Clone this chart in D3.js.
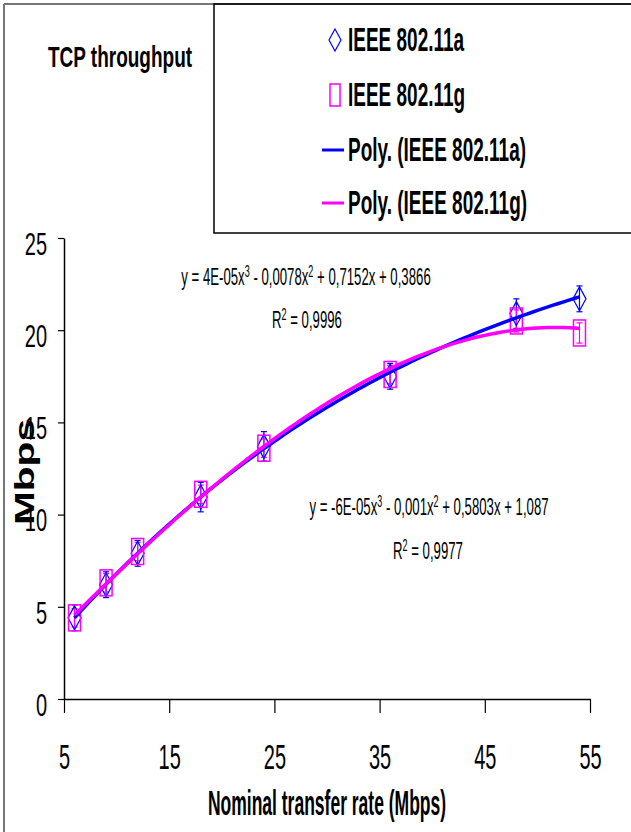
<!DOCTYPE html>
<html>
<head>
<meta charset="utf-8">
<script src="https://cdn.jsdelivr.net/npm/d3@7"></script>
<style>
  body { margin: 0; background: #fff; }
  svg { display: block; font-family: "Liberation Sans", Arial, sans-serif; }
</style>
</head>
<body>
<div id="chart"></div>
<script>
// data
var rates = [6, 9, 12, 18, 24, 36, 48, 54];
var tputA = [4.4, 6.2, 7.9, 10.95, 13.7, 17.5, 20.9, 21.7];
var tputG = [4.4, 6.3, 8.0, 11.1, 13.6, 17.6, 20.5, 19.85];
var errA = [0.7, 0.7, 0.7, 0.8, 0.8, 0.7, 0.8, 0.7];
var errG = [0.5, 0.5, 0.5, 0.5, 0.5, 0.5, 0.6, 0.55];
var xTicks = [5, 15, 25, 35, 45, 55];
var yTicks = [0, 5, 10, 15, 20, 25];
var legendLabels = ["IEEE 802.11a", "IEEE 802.11g", "Poly. (IEEE 802.11a)", "Poly. (IEEE 802.11g)"];

var W = 631, H = 832;
var blue = "#0000ff", pink = "#ff00ff";

var svg = d3.select("#chart").append("svg")
  .attr("width", W).attr("height", H);

var x = d3.scaleLinear().domain([5, 55]).range([64, 590]);
var y = d3.scaleLinear().domain([0, 25]).range([699, 238]);

// outer frame
svg.append("line").attr("x1", 4).attr("y1", 4).attr("x2", 4).attr("y2", H)
  .style("stroke", "#777").style("stroke-width", 2);
svg.append("line").attr("x1", 4).attr("y1", 4).attr("x2", W).attr("y2", 4)
  .style("stroke", "#777").style("stroke-width", 2);

// text is stretched vertically in the picture
function label(txt, tx, ty, size, sy, bold, anchor) {
  return svg.append("text")
    .attr("transform", "translate(" + tx + "," + ty + ") scale(1," + sy + ")")
    .attr("text-anchor", anchor || "start")
    .style("font-size", size + "px")
    .style("font-weight", bold ? "bold" : "normal")
    .text(txt);
}

label("TCP throughput", 120, 67, 19, 1.6, true, "middle");

// legend box
svg.append("rect").attr("x", 214).attr("y", 4).attr("width", 440).attr("height", 229)
  .style("fill", "none").style("stroke", "#000").style("stroke-width", 1.5);

var legY = [40, 95, 150, 203];
legendLabels.forEach(function(t, i) {
  label(t, 348, legY[i] + 11, 19, 1.75, true);
});
// legend marks
svg.append("path")
  .attr("d", "M335," + (legY[0] - 11) + "L341," + legY[0] + "L335," + (legY[0] + 11) + "L329," + legY[0] + "Z")
  .style("fill", "none").style("stroke", blue).style("stroke-width", 1.2);
svg.append("rect").attr("x", 330).attr("y", legY[1] - 11).attr("width", 10).attr("height", 22)
  .style("fill", "none").style("stroke", pink).style("stroke-width", 1.5);
svg.append("line").attr("x1", 322).attr("x2", 344).attr("y1", legY[2]).attr("y2", legY[2])
  .style("stroke", blue).style("stroke-width", 3);
svg.append("line").attr("x1", 322).attr("x2", 344).attr("y1", legY[3]).attr("y2", legY[3])
  .style("stroke", pink).style("stroke-width", 3);

// axes
var yAxis = svg.append("g").attr("transform", "translate(" + x(5) + ",0)")
  .call(d3.axisLeft(y).tickValues(yTicks).tickSize(6).tickSizeOuter(0).tickPadding(11));
var xAxis = svg.append("g").attr("transform", "translate(0," + y(0) + ")")
  .call(d3.axisBottom(x).tickValues(xTicks).tickSize(14).tickSizeOuter(0));

svg.selectAll(".domain").style("stroke", "#000").style("stroke-width", 1.5);
svg.selectAll(".tick line").style("stroke", "#000").style("stroke-width", 1.2);
yAxis.selectAll("text")
  .attr("dy", "0.35em")
  .attr("transform", "translate(0,5) scale(1,1.6)")
  .style("font-size", "20px").style("fill", "#000")
  .style("font-family", "'Liberation Sans', Arial, sans-serif");
xAxis.selectAll("text")
  .attr("y", 0).attr("dy", "0.35em")
  .attr("transform", "translate(0,58) scale(1,1.75)")
  .style("font-size", "20px").style("fill", "#000")
  .style("font-family", "'Liberation Sans', Arial, sans-serif");

label("Nominal transfer rate (Mbps)", 327, 815, 17.5, 2.05, true, "middle");
svg.append("text")
  .attr("transform", "translate(34,472) scale(1,1.45) rotate(-90)")
  .attr("text-anchor", "middle")
  .style("font-size", "28px").style("font-weight", "bold")
  .text("Mbps");

// error bars + markers
function errBars(vals, errs, color) {
  var g = svg.append("g").style("stroke", color).style("stroke-width", 1.2);
  rates.forEach(function(r, i) {
    var cx = x(r), top = y(vals[i] + errs[i]), bot = y(vals[i] - errs[i]);
    g.append("line").attr("x1", cx).attr("x2", cx).attr("y1", top).attr("y2", bot);
    g.append("line").attr("x1", cx - 3).attr("x2", cx + 3).attr("y1", top).attr("y2", top);
    g.append("line").attr("x1", cx - 3).attr("x2", cx + 3).attr("y1", bot).attr("y2", bot);
  });
}
errBars(tputA, errA, blue);
errBars(tputG, errG, pink);

svg.selectAll("path.diamond")
  .data(rates.map(function(r, i) { return [r, tputA[i]]; }))
  .enter().append("path")
  .attr("class", "diamond")
  .attr("d", function(d) {
    var cx = x(d[0]), cy = y(d[1]);
    return "M" + cx + "," + (cy - 12) + "L" + (cx + 6.5) + "," + cy + "L" + cx + "," + (cy + 12) + "L" + (cx - 6.5) + "," + cy + "Z";
  })
  .style("fill", "none").style("stroke", blue).style("stroke-width", 1.2);

svg.selectAll("rect.sq")
  .data(rates.map(function(r, i) { return [r, tputG[i]]; }))
  .enter().append("rect")
  .attr("class", "sq")
  .attr("x", function(d) { return x(d[0]) - 6; })
  .attr("y", function(d) { return y(d[1]) - 13; })
  .attr("width", 12).attr("height", 26)
  .style("fill", "none").style("stroke", pink).style("stroke-width", 1.5);

// cubic least squares trend lines (Excel "Poly." order 3)
function polyFit(xs, ys, deg) {
  var n = deg + 1, A = [], b = [];
  for (var i = 0; i < n; i++) {
    A.push([]);
    for (var j = 0; j < n; j++) A[i].push(d3.sum(xs, function(v) { return Math.pow(v, i + j); }));
    b.push(d3.sum(xs, function(v, k) { return ys[k] * Math.pow(v, i); }));
  }
  for (var c = 0; c < n; c++) {
    for (var r = c + 1; r < n; r++) {
      var f = A[r][c] / A[c][c];
      for (var k = c; k < n; k++) A[r][k] -= f * A[c][k];
      b[r] -= f * b[c];
    }
  }
  var coef = new Array(n);
  for (var r2 = n - 1; r2 >= 0; r2--) {
    var s = b[r2];
    for (var k2 = r2 + 1; k2 < n; k2++) s -= A[r2][k2] * coef[k2];
    coef[r2] = s / A[r2][r2];
  }
  return function(v) { return coef.reduce(function(acc, cf, p) { return acc + cf * Math.pow(v, p); }, 0); };
}

var fitA = polyFit(rates, tputA, 3), fitG = polyFit(rates, tputG, 3);
var xs = d3.range(6, 54.01, 0.5);
var line = d3.line().x(function(d) { return x(d[0]); }).y(function(d) { return y(d[1]); });

svg.append("path").datum(xs.map(function(v) { return [v, fitA(v)]; }))
  .attr("d", line).style("fill", "none").style("stroke", blue).style("stroke-width", 3.5);
svg.append("path").datum(xs.map(function(v) { return [v, fitG(v)]; }))
  .attr("d", line).style("fill", "none").style("stroke", pink).style("stroke-width", 3.5);

// trendline equations, "^n" marks a superscript
function eq(parts, tx, ty) {
  var t = svg.append("text")
    .attr("transform", "translate(" + tx + "," + ty + ") scale(1,1.75)")
    .attr("text-anchor", "middle")
    .style("font-size", "13.2px");
  var up = false;
  parts.forEach(function(p) {
    if (p.charAt(0) === "^") {
      t.append("tspan").attr("dy", -4.5).style("font-size", "9px").text(p.slice(1));
      up = true;
    } else {
      t.append("tspan").attr("dy", up ? 4.5 : 0).text(p);
      up = false;
    }
  });
}
eq(["y = 4E-05x", "^3", " - 0,0078x", "^2", " + 0,7152x + 0,3866"], 306, 285);
eq(["R", "^2", " = 0,9996"], 307, 328);
eq(["y = -6E-05x", "^3", " - 0,001x", "^2", " + 0,5803x + 1,087"], 429, 515);
eq(["R", "^2", " = 0,9977"], 428, 559);
</script>
</body>
</html>
